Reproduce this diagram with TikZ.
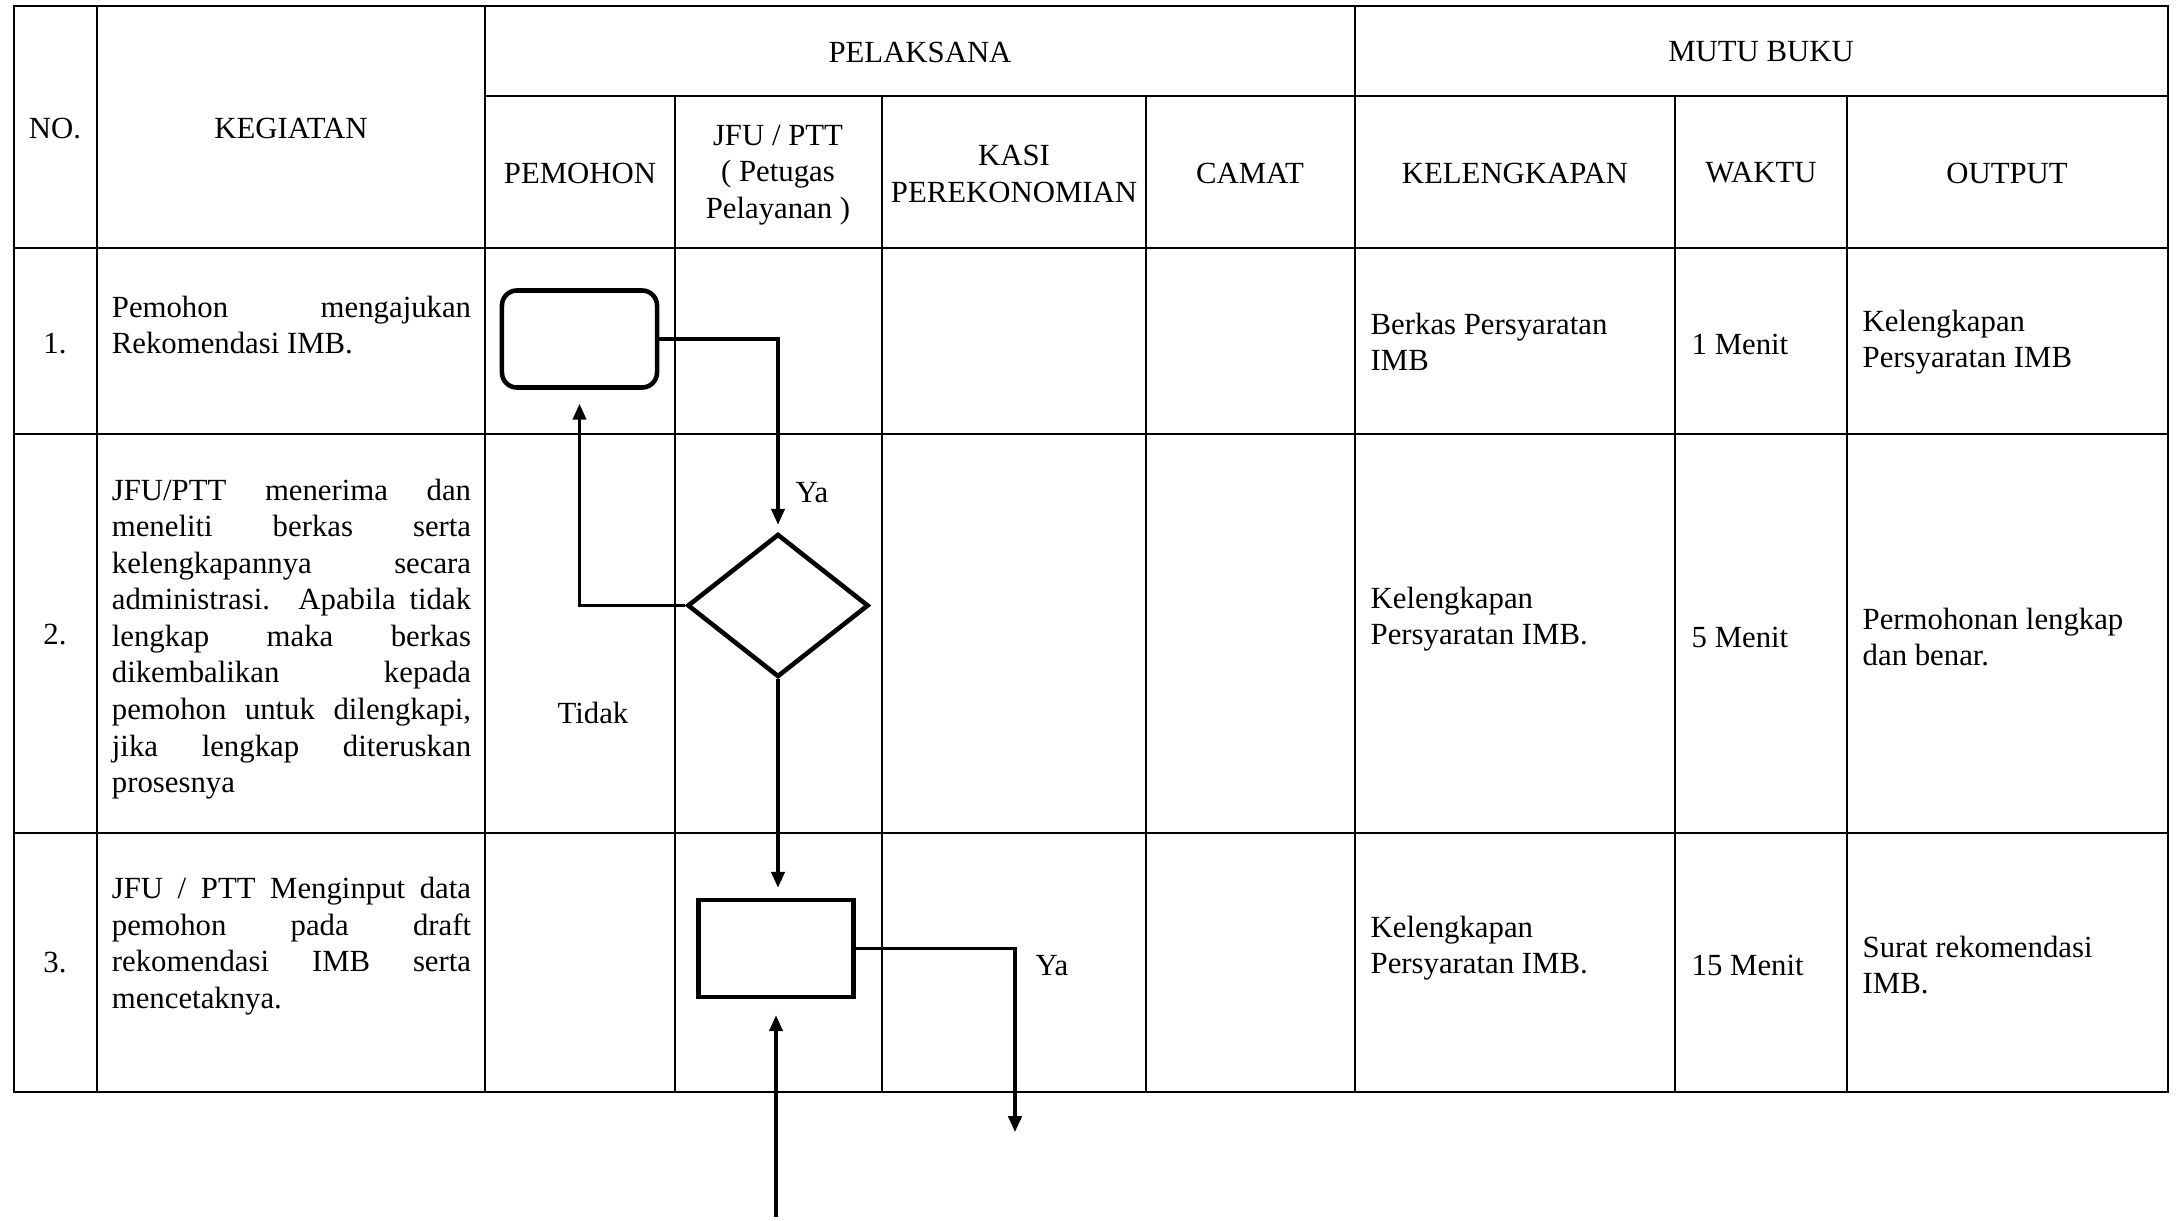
\documentclass[tikz,border=0pt]{standalone}
\usepackage{fontspec}
\setmainfont{Liberation Serif}
\usetikzlibrary{arrows.meta,shapes.geometric,positioning}
\tikzset{
  garis/.style={line width=0.65pt},
  proses/.style={draw,line width=1.3pt,minimum width=1.55cm,minimum height=0.97cm,inner sep=0pt},
  keputusan/.style={draw,diamond,line width=1.3pt,minimum width=1.81cm,minimum height=1.43cm,inner sep=0pt},
  alur/.style={line width=0.9pt,-{Triangle[length=4.5pt,width=3.8pt]}},
  isi/.style={align=justify,text width=3.59cm,inner sep=0pt,
    execute at begin node={\tolerance=10000\hbadness=10000}},
  teks/.style={inner sep=0pt},
  kiri/.style={inner sep=0pt,anchor=west,align=left}
}
\begin{document}
\begin{tikzpicture}[x=0.01cm,y=-0.01cm,font=\fontsize{8.75}{10.4}\selectfont]
  \useasboundingbox (0,0) rectangle (2177,1221);
  % tabel
  \draw[garis] (14,6) rectangle (2168,1092);
  \draw[garis] (485,96) -- (2168,96);
  \foreach \y in {248,434,833} \draw[garis] (14,\y) -- (2168,\y);
  \foreach \x in {97,485,1355} \draw[garis] (\x,6) -- (\x,1092);
  \foreach \x in {675,882,1146,1675,1847} \draw[garis] (\x,96) -- (\x,1092);

  % kepala tabel
  \node[teks] (no) at (55,129) {NO.};
  \node[teks] (kegiatan) at (291,128) {KEGIATAN};
  \node[teks] (pelaksana) at (920,52) {PELAKSANA};
  \node[teks] (mutu) at (1761,52) {MUTU BUKU};
  \node[teks] (pemohon) at (580,173) {PEMOHON};
  \node[teks,align=center] (jfu) at (778,175) {JFU / PTT\\( Petugas\\Pelayanan )};
  \node[teks,align=center] (kasi) at (1014,174) {KASI\\PEREKONOMIAN};
  \node[teks] (camat) at (1250,173) {CAMAT};
  \node[teks] (kelengkapan) at (1515,173) {KELENGKAPAN};
  \node[teks] (waktu) at (1761,173) {WAKTU};
  \node[teks] (output) at (2007,173) {OUTPUT};

  % isi
  \node[teks] (n1) at (55,344) {1.};
  \node[teks] (n2) at (55,635) {2.};
  \node[teks] (n3) at (55,963) {3.};
  \node[isi] (k1) at (291.5,325) {Pemohon mengajukan \linebreak Rekomendasi IMB.};
  \node[isi] (k2) at (291.5,639) {JFU/PTT menerima dan \linebreak meneliti berkas serta \linebreak
    kelengkapannya secara \linebreak administrasi. Apabila tidak \linebreak lengkap maka berkas \linebreak
    dikembalikan kepada \linebreak pemohon untuk dilengkapi, \linebreak jika lengkap diteruskan \linebreak prosesnya};
  \node[isi] (k3) at (291.5,946) {JFU / PTT Menginput data \linebreak pemohon pada draft \linebreak
    rekomendasi IMB serta \linebreak mencetaknya.};

  \node[kiri] (b1) at (1370,342) {Berkas Persyaratan\\IMB};
  \node[kiri] (w1) at (1691,344) {1 Menit};
  \node[kiri] (o1) at (1862,342) {Kelengkapan\\Persyaratan IMB};
  \node[kiri] (b2) at (1370,619) {Kelengkapan\\Persyaratan IMB.};
  \node[kiri] (w2) at (1691,637) {5 Menit};
  \node[kiri] (o2) at (1862,637) {Permohonan lengkap\\dan benar.};
  \node[kiri] (b3) at (1370,948) {Kelengkapan\\Persyaratan IMB.};
  \node[kiri] (w3) at (1691,965) {15 Menit};
  \node[kiri] (o3) at (1862,965) {Surat rekomendasi\\IMB.};

  % alur
  \node[proses,rounded corners=0.15cm] (ajukan) at (579.5,339) {};
  \node[keputusan] (cek) at (778,605.5) {};
  \node[proses] (input) at (776,948.5) {};
  \coordinate (keluar) at (1015,1132);
  \coordinate (masuk) at (776,1217);

  \draw[alur,shorten >=0.07cm] (ajukan.east) -| (cek.north);
  \draw[alur,shorten >=0.14cm] (cek.west) -| (ajukan.south);
  \draw[alur,shorten >=0.1cm] (cek.south) -- (cek.south |- input.north);
  \draw[alur] (input.east) -| (keluar);
  \draw[alur,shorten >=0.16cm] (masuk) -- (input.south);

  \node[teks] (ya1) at (812,493) {Ya};
  \node[teks] (tidak) at (593,713) {Tidak};
  \node[teks] (ya2) at (1052,966) {Ya};
\end{tikzpicture}
\end{document}
